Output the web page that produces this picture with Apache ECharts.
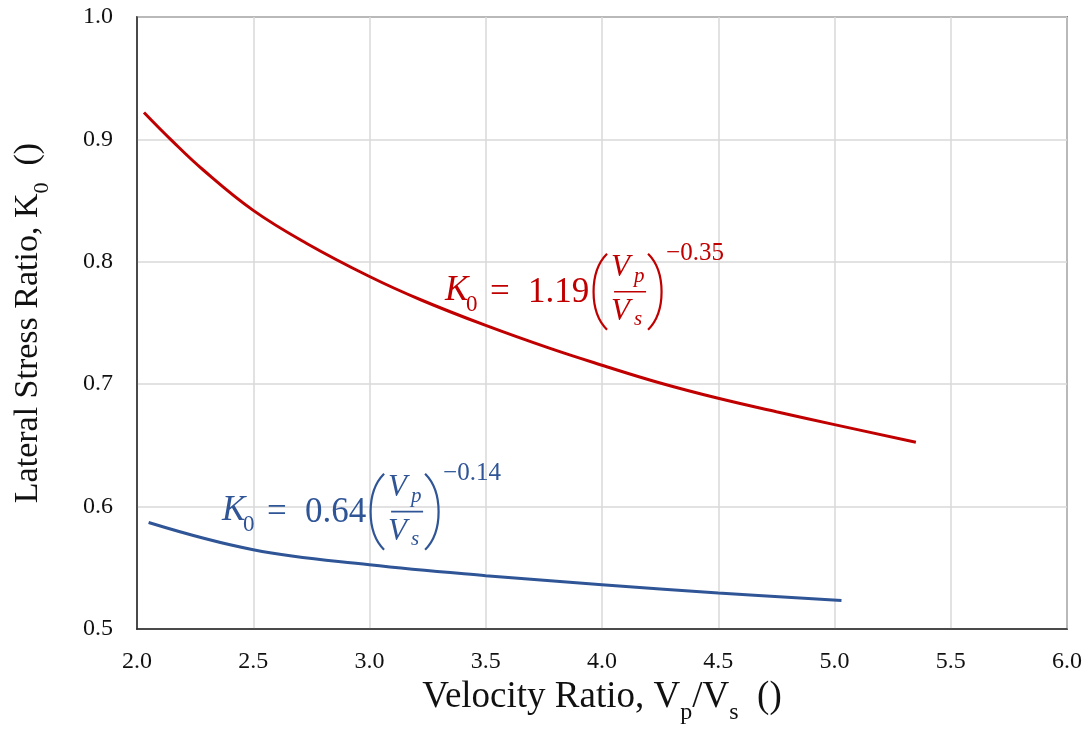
<!DOCTYPE html>
<html>
<head>
<meta charset="utf-8">
<script src="https://cdn.jsdelivr.net/npm/echarts@6/dist/echarts.min.js"></script>
<style>
html,body{margin:0;padding:0;background:#fff;}
#chart{width:1087px;height:738px;}
</style>
</head>
<body>
<div id="chart"></div>
<script>
// ---- data ----
const redX = [2.03, 2.15, 2.285, 2.5, 2.73, 3.0, 3.22, 3.5, 3.78, 4.0, 4.25, 4.5, 4.75, 5.0, 5.35];
const redY = [0.922, 0.899, 0.875, 0.842, 0.815, 0.788, 0.769, 0.748, 0.729, 0.7155, 0.701, 0.6885, 0.6775, 0.667, 0.6525];
const blueX = [2.05, 2.5, 3.0, 3.5, 4.0, 4.5, 5.03];
const blueY = [0.587, 0.5648, 0.5525, 0.5436, 0.5362, 0.5294, 0.5232];
const xMin = 2.0, xMax = 6.0, xStep = 0.5;
const yMin = 0.5, yMax = 1.0, yStep = 0.1;
// annotation texts and anchors (data coords of the K's baseline-left)
const redEq = {coef: '1.19', exp: '\u22120.35', anchor: [3.325, 0.7674], color: '#C00000'};
const blueEq = {coef: '0.64', exp: '\u22120.14', anchor: [2.366, 0.5877], color: '#2F5597'};

const serif = 'Liberation Serif';
const chart = echarts.init(document.getElementById('chart'), null, {renderer: 'canvas'});

function zip(xs, ys){ return xs.map((x,i)=>[x, ys[i]]); }

const option = {
  animation: false,
  backgroundColor: '#fff',
  grid: {left: 137, right: 20, top: 17, bottom: 109, show: true, borderColor: '#262626', borderWidth: 1.5},
  xAxis: {
    type: 'value', min: xMin, max: xMax, interval: xStep,
    axisLine: {show: true, lineStyle: {color: '#262626', width: 1.5}},
    axisTick: {show: false},
    splitLine: {show: true, lineStyle: {color: '#d9d9d9', width: 1.5}},
    axisLabel: {color: '#111', fontFamily: serif, fontSize: 24, margin: 21, formatter: v => v.toFixed(1)},
    name: '{a|Velocity Ratio, V}{sub|p}{a|/V}{sub|s}{a|  ()}',
    nameLocation: 'middle', nameGap: 32,
    nameTextStyle: {
      rich: {
        a: {fontFamily: serif, fontSize: 37, color: '#111', lineHeight: 44, verticalAlign: 'bottom'},
        sub: {fontFamily: serif, fontSize: 24, color: '#111', lineHeight: 44, verticalAlign: 'bottom', padding: [0,0,-9,0]}
      }
    }
  },
  yAxis: {
    type: 'value', min: yMin, max: yMax, interval: yStep,
    axisLine: {show: true, lineStyle: {color: '#262626', width: 1.5}},
    axisTick: {show: false},
    splitLine: {show: true, lineStyle: {color: '#d9d9d9', width: 1.5}},
    axisLabel: {color: '#111', fontFamily: serif, fontSize: 24, margin: 24, padding: [10,0,0,0], formatter: v => v.toFixed(1)},
    name: '{a|Lateral Stress Ratio, K}{sub|0}{a|  ()}',
    nameLocation: 'middle', nameGap: 92, nameRotate: 90,
    nameTextStyle: {
      rich: {
        a: {fontFamily: serif, fontSize: 34, color: '#111', lineHeight: 42, verticalAlign: 'bottom'},
        sub: {fontFamily: serif, fontSize: 22, color: '#111', lineHeight: 42, verticalAlign: 'bottom', padding: [0,0,-8,0]}
      }
    }
  },
  series: [
    {type: 'line', data: zip(redX, redY), smooth: 0.4, symbol: 'none', lineStyle: {color: '#C00000', width: 3}, z: 3},
    {type: 'line', data: zip(blueX, blueY), smooth: 0.4, symbol: 'none', lineStyle: {color: '#2F5597', width: 3}, z: 3}
  ]
};
chart.setOption(option);

function eqGraphics(eq){
  const p = chart.convertToPixel({gridIndex: 0}, eq.anchor);
  const ox = p[0], oy = p[1];
  const c = eq.color;
  const t = (txt, dx, dy, size, italic) => ({
    type: 'text', x: ox + dx, y: oy + dy, silent: true, z: 10,
    style: {text: txt, fill: c, font: (italic ? 'italic ' : '') + size + 'px "' + serif + '"', verticalAlign: 'middle', align: 'left'}
  });
  const paren = (xe, xm) => ({
    type: 'bezierCurve', silent: true, z: 10,
    shape: {x1: ox + xe, y1: oy - 48, x2: ox + xe, y2: oy + 28, cpx1: ox + xm, cpy1: oy - 30, cpx2: ox + xm, cpy2: oy + 10},
    style: {stroke: c, lineWidth: 2.2, fill: null}
  });
  return [
    t('K', 0, -11, 35, true),
    t('0', 21, 3, 23, false),
    t('=', 45, -9, 35, false),
    t(eq.coef, 83, -9, 35, false),
    paren(162, 144),
    t('V', 166, -34, 31, true),
    t('p', 189, -25, 21, true),
    {type: 'line', silent: true, z: 10, shape: {x1: ox + 169, y1: oy - 10, x2: ox + 201, y2: oy - 10}, style: {stroke: c, lineWidth: 1.6}},
    t('V', 166, 10, 31, true),
    t('s', 189, 18, 21, true),
    paren(203, 221),
    t(eq.exp, 221, -48, 25, false)
  ];
}

chart.setOption({graphic: [].concat(eqGraphics(redEq), eqGraphics(blueEq))});
</script>
</body>
</html>
